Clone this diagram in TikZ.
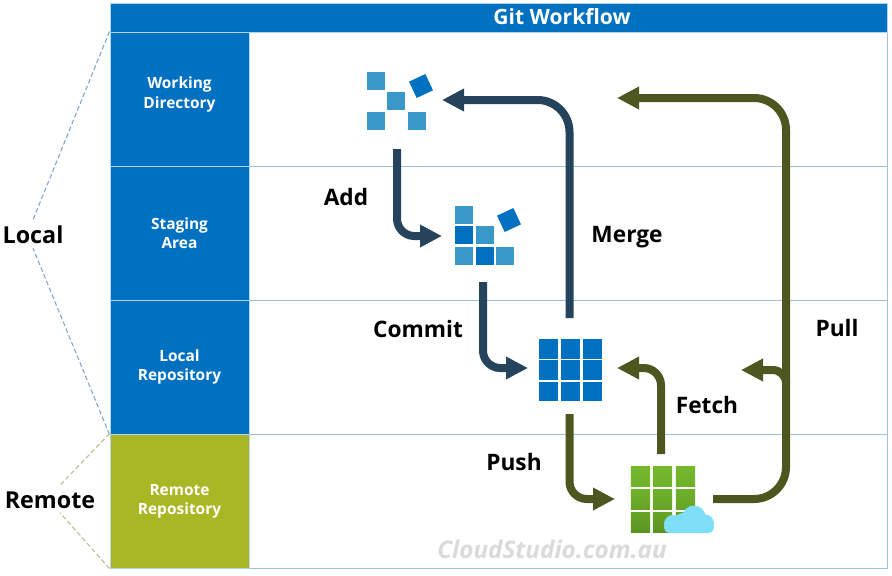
\documentclass[tikz,border=0pt]{standalone}
\usepackage{fontspec}
\setmainfont{Open Sans}
\usetikzlibrary{arrows.meta, calc}
\definecolor{bandblue}{RGB}{0,112,192}
\definecolor{bandgreen}{RGB}{168,184,37}
\definecolor{laneline}{RGB}{156,195,222}
\definecolor{tilelight}{RGB}{58,151,201}
\definecolor{localflow}{RGB}{37,67,90}
\definecolor{remoteflow}{RGB}{76,86,30}
\definecolor{cloudblue}{RGB}{127,222,248}
\definecolor{localdash}{RGB}{125,165,203}
\definecolor{remotedash}{RGB}{183,190,145}
\definecolor{markgrey}{RGB}{218,218,218}
\tikzset{
  band/.style={draw=white!70!bandblue, line width=0.75pt, text=white, font=\bfseries\fontsize{11.6}{14.5}\selectfont,
    align=center, minimum width=104.25pt, minimum height=100.5pt, inner sep=0pt},
  lane/.style={draw=laneline, line width=0.75pt, minimum width=478.5pt, minimum height=100.5pt, inner sep=0pt},
  flowlabel/.style={font=\bfseries\fontsize{17}{20}\selectfont, inner sep=0pt},
  sidelabel/.style={font=\bfseries\fontsize{17.5}{20}\selectfont, inner sep=0pt},
  iconbox/.style={inner sep=0pt, outer sep=0pt},
  tile/.style={inner sep=0pt, outer sep=0pt, minimum size=13.5pt},
  flow/.style={line width=6pt, rounded corners=13pt, -{Triangle[length=16.5pt,width=16pt]}},
  sidedash/.style={line width=0.8pt, dash pattern=on 3.5pt off 2pt},
}
\begin{document}
\begin{tikzpicture}[x=0.75pt, y=-0.75pt]
  \useasboundingbox (0,0) rectangle (892,575);
  % Lanes
  \node[lane] (lane1) at (568,99) {};
  \node[lane] (lane2) at (568,233) {};
  \node[lane] (lane3) at (568,367) {};
  \node[lane] (lane4) at (568,501) {};
  \node[band, fill=bandblue, minimum width=582.75pt, minimum height=21.75pt] (titlebar) at (498.5,17.5) {};
  \node[text=white, font=\bfseries\fontsize{15.8}{18}\selectfont, inner sep=0pt] (title) at (562,17) {Git Workflow};
  \node[band, fill=bandblue] (workband) at (179.5,99) {Working\\Directory\\[-5pt]~};
  \node[band, fill=bandblue] (stageband) at (179.5,233) {Staging\\Area};
  \node[band, fill=bandblue] (repoband) at (179.5,367) {Local\\Repository};
  \node[band, fill=bandgreen] (remoteband) at (179.5,501) {Remote\\Repository};

  % Side labels
  \node[sidelabel] (local) at (33,235) {Local};
  \node[sidelabel] (remote) at (50,500) {Remote};
  \draw[localdash, sidedash] (workband.north west) -- ($(local.north)+(0,-6)$);
  \draw[localdash, sidedash] (repoband.south west) -- ($(local.south)+(0,4)$);
  \draw[remotedash, sidedash] (remoteband.north west) -- ($(remote.north)+(10,-6)$);
  \draw[remotedash, sidedash] (remoteband.south west) -- ($(remote.south)+(10,4)$);

  % Icons
  \node[iconbox, minimum width=67.5pt, minimum height=73.5pt] (workicon) at (397,100) {};
  \node[iconbox, minimum width=61.5pt, minimum height=69pt] (stageicon) at (483,236) {};
  \node[iconbox, minimum width=66.75pt, minimum height=69pt] (repoicon) at (572.5,368) {};
  \node[iconbox, minimum width=73.5pt, minimum height=67.5pt] (cloudicon) at (664,499) {};

  \foreach \x/\y [count=\i] in {375.5/80.5, 396/101, 375.5/121, 417/121}
    \node[tile, fill=tilelight] (worktile\i) at (\x,\y) {};
  \node[tile, fill=bandblue, rotate=25] (workloose) at (421,86) {};

  \foreach \x/\y/\c [count=\i] in {464/214.5/tilelight, 464/235/bandblue, 485/235/tilelight,
      464/255.5/tilelight, 485/255.5/bandblue, 505/255.5/tilelight}
    \node[tile, fill=\c] (stagetile\i) at (\x,\y) {};
  \node[tile, fill=bandblue, rotate=25] (stageloose) at (509,220) {};

  \foreach \x in {548.5,570.5,592.5}
    \foreach \y in {349,370,391.5}
      \node[tile, fill=bandblue, minimum size=14.5pt] (repotile\x\y) at (\x,\y) {};

  \foreach \y/\t/\b in {476.5/75B82C/6FB02A, 499.5/6FB02A/66A426, 522.5/66A426/5A9421} {
    \definecolor{toptile}{HTML}{\t}
    \definecolor{bottile}{HTML}{\b}
    \foreach \x in {640.5,662.5,685.5}
      \node[tile, top color=toptile, bottom color=bottile, minimum size=14.5pt] (cloudtile\x\y) at (\x,\y) {};
  }
  % Cloud
  \fill[cloudblue] (694,517) circle (11.5) (705,523.5) circle (9) (673,524) circle (9) (683,522) circle (9);
  \fill[cloudblue, rounded corners=4pt] (664,522) rectangle (714,533);

  % Arrows
  \draw[flow, localflow] (workicon.south) |- (stageicon.west);
  \draw[flow, localflow] (stageicon.south) |- (repoicon.west);
  \draw[flow, localflow, rounded corners=24pt, shorten <=3pt] ([xshift=-2.25pt]repoicon.north) |- (workicon.east);
  \draw[flow, remoteflow] ([xshift=-2.25pt]repoicon.south) |- (cloudicon.west);
  \draw[flow, remoteflow] ([xshift=-2.25pt]cloudicon.north) |- (repoicon.east);
  \coordinate (pulltop) at (786,98);
  \coordinate (pulltip) at (617,98);
  \coordinate (pullbranch) at (786,382);
  \coordinate (branchtip) at (741,370);
  \draw[flow, remoteflow, rounded corners=24pt] (cloudicon.east) -| (pulltop) -- (pulltip);
  \draw[flow, remoteflow, rounded corners=10pt] (pullbranch) |- (branchtip);

  % Labels
  \node[flowlabel] (addlabel) at (346,197) {Add};
  \node[flowlabel] (mergelabel) at (627,237) {Merge};
  \node[flowlabel] (commitlabel) at (418,329) {Commit};
  \node[flowlabel] (pushlabel) at (514,462) {Push};
  \node[flowlabel] (fetchlabel) at (707,405) {Fetch};
  \node[flowlabel] (pulllabel) at (837,328) {Pull};
  \node[text=markgrey, font=\bfseries\itshape\fontsize{18.2}{20}\selectfont, inner sep=0pt] (watermark) at (552,549) {CloudStudio.com.au};
\end{tikzpicture}
\end{document}
